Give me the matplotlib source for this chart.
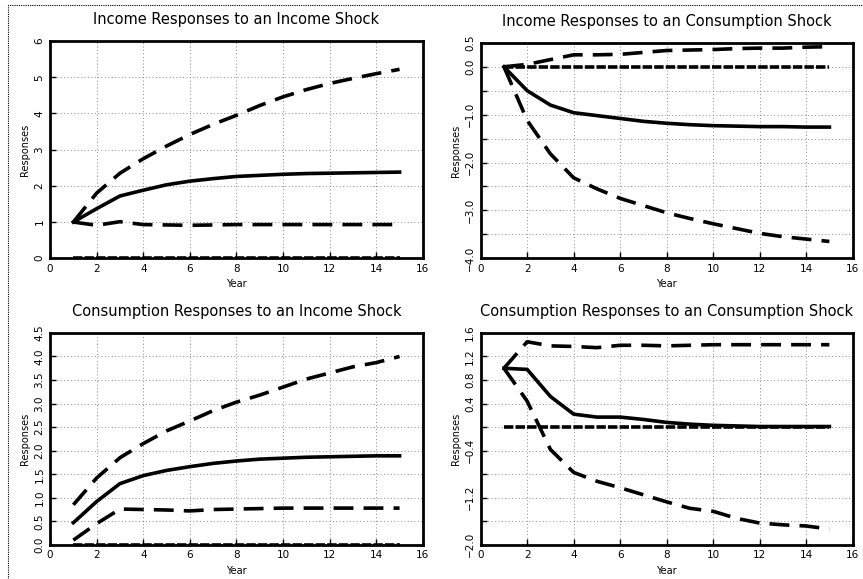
import matplotlib
matplotlib.use("Agg")
import matplotlib.pyplot as plt
from matplotlib.patches import Rectangle

years = list(range(1, 16))

# Income responses to an income shock
inc_inc = [1.0, 1.37, 1.72, 1.88, 2.03, 2.13, 2.2, 2.26, 2.29, 2.32, 2.34, 2.35, 2.36, 2.37, 2.38]
inc_inc_hi = [1.0, 1.8, 2.35, 2.75, 3.1, 3.42, 3.7, 3.95, 4.22, 4.46, 4.66, 4.83, 4.97, 5.1, 5.22]
inc_inc_lo = [1.0, 0.91, 1.01, 0.93, 0.92, 0.91, 0.92, 0.93, 0.93, 0.93, 0.93, 0.93, 0.93, 0.93, 0.93]

# Income responses to a consumption shock
inc_con = [0.0, -0.5, -0.8, -0.96, -1.02, -1.08, -1.14, -1.18, -1.21, -1.23, -1.24, -1.25, -1.25, -1.26, -1.26]
inc_con_hi = [0.0, 0.05, 0.15, 0.25, 0.25, 0.26, 0.3, 0.34, 0.35, 0.36, 0.38, 0.39, 0.39, 0.41, 0.42]
inc_con_lo = [0.0, -1.12, -1.82, -2.32, -2.55, -2.75, -2.9, -3.05, -3.17, -3.28, -3.38, -3.48, -3.55, -3.6, -3.65]

# Consumption responses to an income shock
con_inc = [0.47, 0.92, 1.3, 1.47, 1.58, 1.66, 1.73, 1.78, 1.82, 1.84, 1.86, 1.87, 1.88, 1.89, 1.89]
con_inc_hi = [0.85, 1.42, 1.85, 2.15, 2.42, 2.63, 2.85, 3.03, 3.18, 3.35, 3.52, 3.65, 3.78, 3.87, 4.0]
con_inc_lo = [0.1, 0.45, 0.76, 0.75, 0.74, 0.72, 0.75, 0.76, 0.77, 0.78, 0.78, 0.78, 0.78, 0.78, 0.78]

# Consumption responses to a consumption shock
con_con = [1.0, 0.98, 0.52, 0.22, 0.17, 0.17, 0.13, 0.08, 0.05, 0.03, 0.02, 0.01, 0.01, 0.01, 0.01]
con_con_hi = [1.0, 1.45, 1.38, 1.37, 1.35, 1.39, 1.39, 1.38, 1.39, 1.4, 1.4, 1.4, 1.4, 1.4, 1.4]
con_con_lo = [1.0, 0.44, -0.38, -0.77, -0.92, -1.03, -1.15, -1.27, -1.38, -1.43, -1.55, -1.63, -1.66, -1.68, -1.73]

titles = ["Income Responses to an Income Shock",
          "Income Responses to an Consumption Shock",
          "Consumption Responses to an Income Shock",
          "Consumption Responses to an Consumption Shock"]

yticks1 = [0, 1, 2, 3, 4, 5, 6]
ylabels1 = ["0", "1", "2", "3", "4", "5", "6"]
yticks2 = [-4.0, -3.5, -3.0, -2.5, -2.0, -1.5, -1.0, -0.5, 0.0, 0.5]
ylabels2 = ["\u22124.0", "", "\u22123.0", "", "\u22122.0", "", "\u22121.0", "", "0.0", "0.5"]
yticks3 = [0.0, 0.5, 1.0, 1.5, 2.0, 2.5, 3.0, 3.5, 4.0, 4.5]
ylabels3 = ["0.0", "0.5", "1.0", "1.5", "2.0", "2.5", "3.0", "3.5", "4.0", "4.5"]
yticks4 = [-2.0, -1.6, -1.2, -0.8, -0.4, 0.0, 0.4, 0.8, 1.2, 1.6]
ylabels4 = ["\u22122.0", "", "\u22121.2", "", "\u22120.4", "", "0.4", "0.8", "1.2", "1.6"]

panels = [
    (inc_inc, inc_inc_hi, inc_inc_lo, yticks1, ylabels1),
    (inc_con, inc_con_hi, inc_con_lo, yticks2, ylabels2),
    (con_inc, con_inc_hi, con_inc_lo, yticks3, ylabels3),
    (con_con, con_con_hi, con_con_lo, yticks4, ylabels4),
]

positions = [
    [0.058, 0.554, 0.432, 0.375],
    [0.557, 0.554, 0.431, 0.372],
    [0.058, 0.059, 0.432, 0.366],
    [0.557, 0.059, 0.431, 0.366],
]

fig = plt.figure(figsize=(8.63, 5.79), dpi=100)

# dotted frame around the figure (only top and left fall inside the image)
fig.patches.append(Rectangle((8 / 863, -0.1), 1.2, 1 - 5 / 579 + 0.1,
                             transform=fig.transFigure, fill=False,
                             linestyle=(0, (1, 1)), linewidth=0.8, edgecolor="black"))

for i, (mid, hi, lo, yt, yl) in enumerate(panels):
    ax = fig.add_axes(positions[i])
    zero = [0.0] * len(years)
    ax.plot(years, zero, color="black", linewidth=2.6, linestyle=(0, (2.6, 0.6)))
    ax.plot(years, hi, color="black", linewidth=2.6, linestyle=(0, (5.5, 2.8)))
    ax.plot(years, lo, color="black", linewidth=2.6, linestyle=(0, (5.5, 2.8)))
    ax.plot(years, mid, color="black", linewidth=2.6)
    ax.set_xlim(0, 16)
    ax.set_ylim(yt[0], yt[-1])
    ax.set_xticks(range(0, 17, 2))
    ax.set_yticks(yt)
    ax.set_yticklabels(yl, rotation=90, va="center")
    ax.grid(True, linestyle=(0, (1, 2.5)), color="#888888", linewidth=0.7)
    ax.tick_params(direction="in", length=4, width=1, labelsize=7.5, pad=4)
    for s in ax.spines.values():
        s.set_linewidth(2)
    ax.set_title(titles[i], fontsize=10.5, pad=12)
    ax.set_xlabel("Year", fontsize=7)
    ax.set_ylabel("Responses", fontsize=7, labelpad=3)

plt.savefig("out.png", dpi=100)
